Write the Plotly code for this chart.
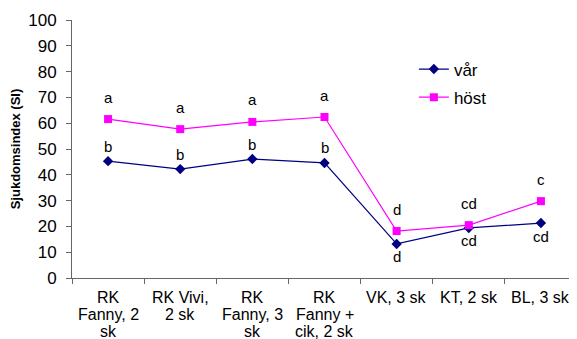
import plotly.graph_objects as go

categories = ["RK Fanny, 2 sk", "RK Vivi, 2 sk", "RK Fanny, 3 sk", "RK Fanny + cik, 2 sk",
              "VK, 3 sk", "KT, 2 sk", "BL, 3 sk"]
category_lines = [["RK", "Fanny, 2", "sk"], ["RK Vivi,", "2 sk"], ["RK", "Fanny, 3", "sk"],
                  ["RK", "Fanny +", "cik, 2 sk"], ["VK, 3 sk"], ["KT, 2 sk"], ["BL, 3 sk"]]
var_values = [45.3, 42.2, 46.1, 44.6, 13.2, 19.4, 21.3]
host_values = [61.6, 57.7, 60.5, 62.4, 18.2, 20.5, 29.8]
var_letters = ["b", "b", "b", "b", "d", "cd", "cd"]
host_letters = ["a", "a", "a", "a", "d", "cd", "c"]
var_below = [False, False, False, False, True, True, True]

FONT = "Arial, Liberation Sans, sans-serif"

fig = go.Figure()
fig.add_trace(go.Scatter(x=categories, y=var_values, name="vår", mode="lines+markers",
                         line=dict(color="#000080", width=1.2),
                         marker=dict(symbol="diamond", size=8, color="#000080"),
                         legendgroup="v"))
fig.add_trace(go.Scatter(x=categories, y=host_values, name="höst", mode="lines+markers",
                         line=dict(color="#FF00FF", width=1.2),
                         marker=dict(symbol="square", size=8, color="#FF00FF"),
                         legendgroup="h"))

for c, v, t in zip(categories, host_values, host_letters):
    fig.add_annotation(x=c, y=v, text=t, showarrow=False, yshift=22,
                       font=dict(family=FONT, size=15, color="black"))
for c, v, t, b in zip(categories, var_values, var_letters, var_below):
    fig.add_annotation(x=c, y=v, text=t, showarrow=False, yshift=-13 if b else 15,
                       font=dict(family=FONT, size=15, color="black"))

# category labels, one annotation per line for tight line spacing
for c, lines in zip(categories, category_lines):
    for i, ln in enumerate(lines):
        fig.add_annotation(x=c, y=0, text=ln, showarrow=False, yanchor="middle",
                           yshift=-19 - 17 * i, font=dict(family=FONT, size=16, color="black"))

# page body has an 8px margin, so the figure is sized to fit inside the window
fig.update_layout(
    width=569, height=331,
    margin=dict(l=64, r=0, t=12, b=61),
    paper_bgcolor="white", plot_bgcolor="white",
    font=dict(family=FONT, size=16, color="black"),
    showlegend=True,
    legend=dict(x=0.677, y=0.878, xanchor="left", yanchor="top", bgcolor="rgba(0,0,0,0)",
                font=dict(size=17), tracegroupgap=3, itemwidth=30),
    xaxis=dict(type="category", tickson="boundaries", ticks="outside", ticklen=5,
               tickcolor="#666", showline=True, linecolor="#666", linewidth=1,
               showgrid=False, showticklabels=False, range=[-0.5, 6.5], automargin=False),
    yaxis=dict(range=[0, 100], dtick=10, ticks="outside", ticklen=5, tickcolor="#666",
               showline=True, linecolor="#666", linewidth=1, showgrid=False, zeroline=False,
               tickfont=dict(size=17), ticklabelstandoff=6, automargin=False,
               title=dict(text="<b>Sjukdomsindex (SI)</b>", font=dict(size=13), standoff=7)),
)

fig.write_html("out.html")
